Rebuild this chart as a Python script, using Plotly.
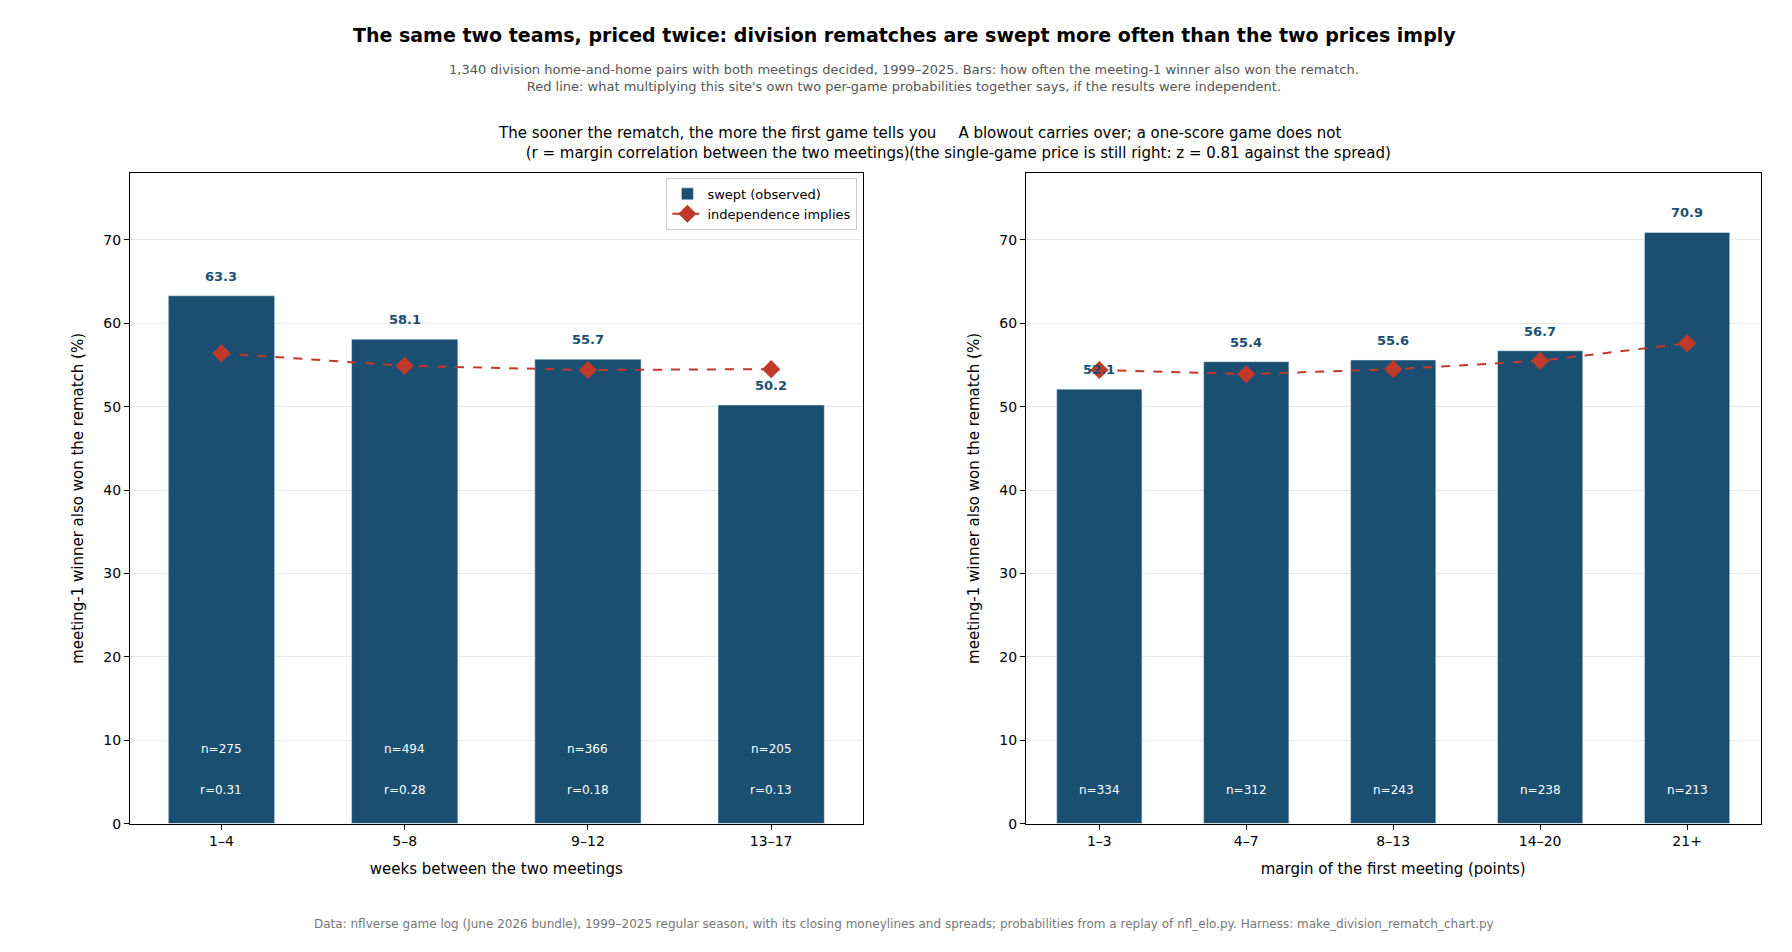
import plotly.graph_objects as go

# left panel: weeks between meetings
gap_cats = ["1–4", "5–8", "9–12", "13–17"]
gap_swept = [63.3, 58.1, 55.7, 50.2]
gap_indep = [56.4, 54.9, 54.4, 54.5]
gap_n = [275, 494, 366, 205]
gap_r = [0.31, 0.28, 0.18, 0.13]

# right panel: margin of first meeting
mar_cats = ["1–3", "4–7", "8–13", "14–20", "21+"]
mar_swept = [52.1, 55.4, 55.6, 56.7, 70.9]
mar_indep = [54.4, 53.9, 54.5, 55.5, 57.6]
mar_n = [334, 312, 243, 238, 213]

BLUE = "#1b4f72"
RED = "#c0392b"
FONT = "DejaVu Sans"

fig = go.Figure()

fig.add_trace(go.Bar(x=gap_cats, y=gap_swept, marker_color=BLUE, width=0.58,
                     name="swept (observed)", xaxis="x", yaxis="y"))
fig.add_trace(go.Scatter(x=gap_cats, y=gap_indep, mode="lines+markers",
                         line=dict(color=RED, width=2, dash="dash"),
                         marker=dict(symbol="diamond", size=14, color=RED),
                         name="independence implies", xaxis="x", yaxis="y"))
fig.add_trace(go.Bar(x=mar_cats, y=mar_swept, marker_color=BLUE, width=0.58,
                     showlegend=False, xaxis="x2", yaxis="y2"))
fig.add_trace(go.Scatter(x=mar_cats, y=mar_indep, mode="lines+markers",
                         line=dict(color=RED, width=2, dash="dash"),
                         marker=dict(symbol="diamond", size=14, color=RED),
                         showlegend=False, xaxis="x2", yaxis="y2"))

ann = []
for c, v, n, r in zip(gap_cats, gap_swept, gap_n, gap_r):
    ann.append(dict(x=c, y=v + 1.2, xref="x", yref="y", text=f"<b>{v:.1f}</b>",
                    showarrow=False, yanchor="bottom", font=dict(size=13, color=BLUE)))
    ann.append(dict(x=c, y=9, xref="x", yref="y", text=f"n={n}",
                    showarrow=False, font=dict(size=12, color="white")))
    ann.append(dict(x=c, y=4, xref="x", yref="y", text=f"r={r:.2f}",
                    showarrow=False, font=dict(size=12, color="white")))
for c, v, n in zip(mar_cats, mar_swept, mar_n):
    ann.append(dict(x=c, y=v + 1.2, xref="x2", yref="y2", text=f"<b>{v:.1f}</b>",
                    showarrow=False, yanchor="bottom", font=dict(size=13, color=BLUE)))
    ann.append(dict(x=c, y=4, xref="x2", yref="y2", text=f"n={n}",
                    showarrow=False, font=dict(size=12, color="white")))

ann += [
    dict(x=0.5, y=0.985, xref="paper", yref="paper", showarrow=False, yanchor="top",
         text="<b>The same two teams, priced twice: division rematches are swept more often than the two prices imply</b>",
         font=dict(size=19, color="black")),
    dict(x=0.5, y=0.945, xref="paper", yref="paper", showarrow=False, yanchor="top",
         text="1,340 division home-and-home pairs with both meetings decided, 1999–2025. Bars: how often the meeting-1 winner also won the rematch.<br>Red line: what multiplying this site's own two per-game probabilities together says, if the results were independent.",
         font=dict(size=13, color="#555555")),
    dict(x=0.2725, y=0.835, xref="paper", yref="paper", showarrow=False, yanchor="bottom",
         text="The sooner the rematch, the more the first game tells you<br>(r = margin correlation between the two meetings)",
         font=dict(size=15, color="black")),
    dict(x=0.773, y=0.835, xref="paper", yref="paper", showarrow=False, yanchor="bottom",
         text="A blowout carries over; a one-score game does not<br>(the single-game price is still right: z = 0.81 against the spread)",
         font=dict(size=15, color="black")),
    dict(x=0.5, y=0.02, xref="paper", yref="paper", showarrow=False, yanchor="bottom",
         text="Data: nflverse game log (June 2026 bundle), 1999–2025 regular season, with its closing moneylines and spreads; probabilities from a replay of nfl_elo.py. Harness: make_division_rematch_chart.py",
         font=dict(size=12, color="#777777")),
]

axis_common = dict(showline=True, linecolor="black", linewidth=1, mirror=True,
                   ticks="outside", tickcolor="black", tickfont=dict(size=14, color="black"))
yaxis_common = dict(axis_common, range=[0, 78], dtick=10, showgrid=True, gridcolor="#e8e8e8",
                    zeroline=False, title=dict(text="meeting-1 winner also won the rematch (%)",
                                               font=dict(size=15, color="black")))

fig.update_layout(
    width=1792, height=952, plot_bgcolor="white", paper_bgcolor="white",
    font=dict(family=FONT), margin=dict(l=0, r=0, t=0, b=0),
    bargap=0.42, annotations=ann,
    xaxis=dict(axis_common, domain=[0.068, 0.477], anchor="y",
               title=dict(text="weeks between the two meetings", font=dict(size=15, color="black"))),
    yaxis=dict(yaxis_common, domain=[0.136, 0.825], anchor="x"),
    xaxis2=dict(axis_common, domain=[0.568, 0.978], anchor="y2",
                title=dict(text="margin of the first meeting (points)", font=dict(size=15, color="black"))),
    yaxis2=dict(yaxis_common, domain=[0.136, 0.825], anchor="x2"),
    legend=dict(x=0.474, y=0.82, xanchor="right", yanchor="top", bgcolor="white",
                bordercolor="#cccccc", borderwidth=1, font=dict(size=13, color="black")),
)

fig.write_html("out.html")
